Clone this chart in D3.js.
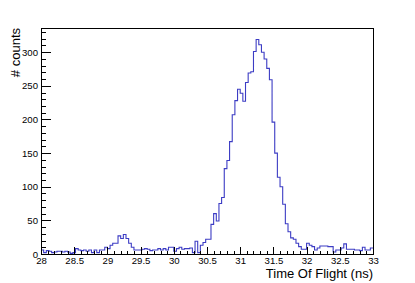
<!DOCTYPE html>
<html>
<head>
<meta charset="utf-8">
<script src="https://cdn.jsdelivr.net/npm/d3@7"></script>
<style>
  body { margin: 0; background: #fff; }
  svg { display: block; font-family: "Liberation Sans", Arial, sans-serif; }
</style>
</head>
<body>
<div id="chart"></div>
<script>
// histogram range and bin contents (0.04 ns bins, 28 -> 33 ns)
const xMin = 28;
const xMax = 33;
const counts = [
  6, 2, 5, 4, 2, 3, 4, 4, 3, 4,
  3, 1, 2, 8, 6, 5, 6, 4, 6, 2,
  6, 2, 6, 6, 10, 8, 13, 16, 16, 27,
  23, 29, 23, 16, 10, 6, 6, 6, 7, 8,
  7, 5, 6, 6, 8, 6, 8, 6, 10, 10,
  4, 8, 10, 7, 8, 8, 9, 2, 19, 2,
  13, 17, 22, 22, 44, 60, 49, 75, 84, 127,
  139, 167, 207, 228, 245, 239, 227, 255, 269, 271,
  301, 319, 311, 300, 290, 276, 259, 196, 150, 114,
  100, 74, 45, 33, 24, 22, 16, 11, 7, 7,
  16, 13, 11, 6, 9, 12, 12, 12, 11, 11,
  3, 6, 6, 9, 15, 7, 7, 7, 6, 6,
  5, 10, 6, 6, 9
];
const xTicks = [28, 28.5, 29, 29.5, 30, 30.5, 31, 31.5, 32, 32.5, 33];
const yTicks = [0, 50, 100, 150, 200, 250, 300];
const yMax = 336;
const xTitle = "Time Of Flight (ns)";
const yTitle = "# counts";

class TofHist {
    constructor(_config) {
        this.config = {
            parentElement: _config.parentElement,
            containerWidth: _config.containerWidth || 415,
            containerHeight: _config.containerHeight || 283,
            margin: _config.margin || {top: 28, right: 42, bottom: 29, left: 41}
        };
        this.initVis();
    }

    initVis() {
        let vis = this;
        const m = vis.config.margin;
        vis.width = vis.config.containerWidth - m.left - m.right;
        vis.height = vis.config.containerHeight - m.top - m.bottom;

        vis.svg = d3.select(vis.config.parentElement).append('svg')
            .attr('width', vis.config.containerWidth)
            .attr('height', vis.config.containerHeight);

        vis.chart = vis.svg.append('g')
            .attr('transform', `translate(${m.left},${m.top})`);

        vis.xScale = d3.scaleLinear().domain([xMin, xMax]).range([0, vis.width]);
        vis.yScale = d3.scaleLinear().domain([0, yMax]).range([vis.height, 0]);

        vis.renderVis();
    }

    renderVis() {
        let vis = this;
        const binWidth = (xMax - xMin) / counts.length;

        // step outline of the histogram
        let path = '';
        counts.forEach((c, i) => {
            const x0 = vis.xScale(xMin + i * binWidth);
            const x1 = vis.xScale(xMin + (i + 1) * binWidth);
            const y = vis.yScale(c);
            path += (i === 0 ? `M${x0},${y}` : `L${x0},${y}`) + `L${x1},${y}`;
        });
        vis.chart.append('path')
            .attr('d', path)
            .attr('fill', 'none')
            .attr('stroke', '#3c3cc4')
            .attr('stroke-width', 1.1);

        // minor ticks (inside the frame, ROOT style)
        const xMinor = d3.range(0, 51).map(i => xMin + i * 0.1);
        const yMinor = d3.range(0, 34).map(i => i * 10);

        vis.chart.append('g')
            .attr('transform', `translate(0,${vis.height})`)
            .call(d3.axisBottom(vis.xScale).tickValues(xMinor).tickSize(-3.5).tickFormat(''))
            .call(g => g.select('.domain').remove());
        vis.chart.append('g')
            .call(d3.axisLeft(vis.yScale).tickValues(yMinor).tickSize(-5).tickFormat(''))
            .call(g => g.select('.domain').remove());

        // major ticks with labels
        vis.chart.append('g')
            .attr('class', 'x-axis')
            .attr('transform', `translate(0,${vis.height})`)
            .call(d3.axisBottom(vis.xScale).tickValues(xTicks).tickSize(-7).tickPadding(3)
                .tickFormat(d3.format('')))
            .call(g => g.select('.domain').remove());
        vis.chart.append('g')
            .attr('class', 'y-axis')
            .call(d3.axisLeft(vis.yScale).tickValues(yTicks).tickSize(-10).tickPadding(3))
            .call(g => g.select('.domain').remove());

        vis.chart.selectAll('.tick line')
            .attr('stroke', '#000')
            .attr('shape-rendering', 'crispEdges');
        vis.chart.selectAll('.tick text')
            .attr('fill', '#000')
            .attr('font-size', '9.6px')
            .attr('font-family', '"Liberation Sans", Arial, sans-serif');
        vis.chart.selectAll('.x-axis .tick text').attr('dy', '0.68em');

        // frame
        vis.chart.append('rect')
            .attr('x', 0).attr('y', 0)
            .attr('width', vis.width).attr('height', vis.height)
            .attr('fill', 'none')
            .attr('stroke', '#000')
            .attr('shape-rendering', 'crispEdges');

        // axis titles, right/top aligned like ROOT
        vis.chart.append('text')
            .attr('x', vis.width)
            .attr('y', vis.height + 23.5)
            .attr('text-anchor', 'end')
            .attr('font-size', '13px')
            .text(xTitle);
        vis.chart.append('text')
            .attr('transform', `translate(${20 - vis.config.margin.left},0) rotate(-90)`)
            .attr('text-anchor', 'end')
            .attr('font-size', '13px')
            .text(yTitle);
    }
}

const hist = new TofHist({parentElement: '#chart'});
</script>
</body>
</html>
